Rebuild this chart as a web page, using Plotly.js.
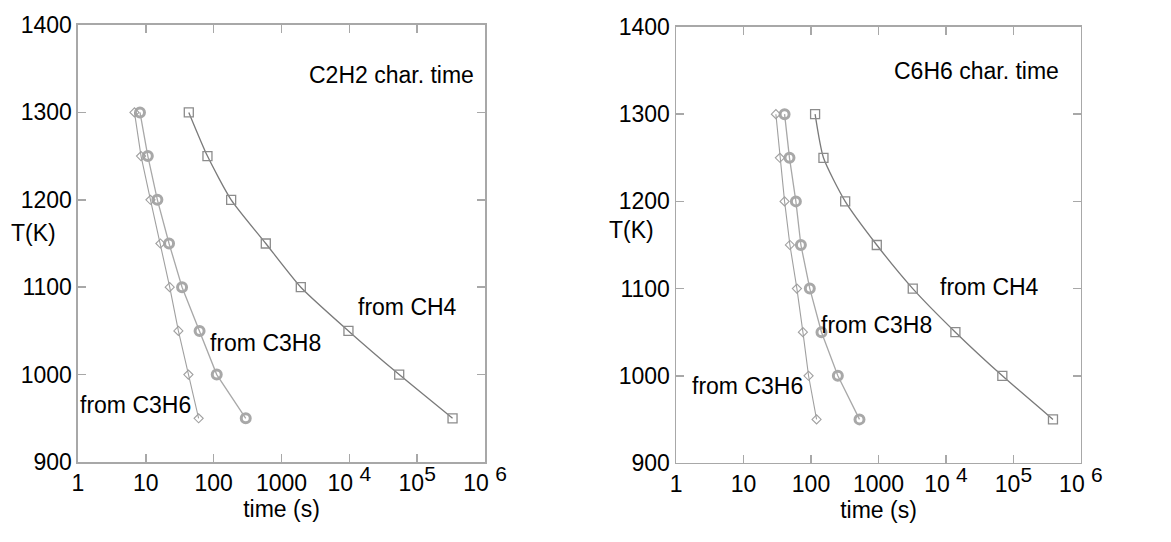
<!DOCTYPE html>
<html>
<head>
<meta charset="utf-8">
<script src="https://cdn.plot.ly/plotly-3.0.1.min.js"></script>
<style>html,body{margin:0;padding:0;background:#fff}#chart{width:1171px;height:542px}</style>
</head>
<body>
<div id="chart"></div>
<script>
// Temperatures (K)
const temps = [1300, 1250, 1200, 1150, 1100, 1050, 1000, 950];

// Left panel: C2H2 characteristic time (s)
const c2h2_fromCH4  = [43, 81, 181, 587, 1925, 9700, 54300, 332000];
const c2h2_fromC3H8 = [8.2, 10.7, 14.8, 22, 34.2, 62, 111, 297];
const c2h2_fromC3H6 = [6.8, 8.5, 11.7, 16.4, 22.5, 30.2, 42.4, 60];

// Right panel: C6H6 characteristic time (s)
const c6h6_fromCH4  = [115, 153, 321, 944, 3220, 13800, 68400, 385000];
const c6h6_fromC3H8 = [40.6, 48, 59.7, 70.8, 96, 143, 250, 523];
const c6h6_fromC3H6 = [30.2, 34.6, 40.6, 48.7, 61.8, 75.9, 92, 121];

// Tick labels
const xTickVals = [1, 10, 100, 1000, 1e4, 1e5, 1e6];
const xTickText = ['1', '10', '100', '1000',
  '10 <sup><span style="font-size:21px">4</span></sup>',
  '10<sup><span style="font-size:21px">5</span></sup>',
  '10 <sup><span style="font-size:21px">6</span></sup>'];
const yTickVals = [900, 1000, 1100, 1200, 1300, 1400];
const yTickText = ['900', '1000', '1100', '1200', '1300', '1400'];

const FONT = 'Liberation Sans, Arial, Helvetica, sans-serif';
const FS = 23;
const frameColor = '#a8a8a8';

function series(x, kind, xa, ya) {
  const styles = {
    ch4:  {line: {color: '#7a7a7a', width: 1.3, shape: 'spline', smoothing: 0.6},
           marker: {symbol: 'square-open', size: 9, color: '#8c8c8c', line: {width: 1.3}}},
    c3h8: {line: {color: '#a8a8a8', width: 1.3},
           marker: {symbol: 'circle-open', size: 9, color: '#a8a8a8', line: {width: 3}}},
    c3h6: {line: {color: '#a0a0a0', width: 1.1},
           marker: {symbol: 'diamond-open', size: 7, color: '#a0a0a0', line: {width: 1.1}}}
  };
  return Object.assign({x: x, y: temps, type: 'scatter', mode: 'lines+markers',
    xaxis: xa, yaxis: ya, showlegend: false, hoverinfo: 'skip'}, styles[kind]);
}

const data = [
  series(c2h2_fromCH4, 'ch4', 'x', 'y'),
  series(c2h2_fromC3H8, 'c3h8', 'x', 'y'),
  series(c2h2_fromC3H6, 'c3h6', 'x', 'y'),
  series(c6h6_fromCH4, 'ch4', 'x2', 'y2'),
  series(c6h6_fromC3H8, 'c3h8', 'x2', 'y2'),
  series(c6h6_fromC3H6, 'c3h6', 'x2', 'y2')
];

function xAxis(domain, anchor) {
  return {domain: domain, anchor: anchor, type: 'log', range: [0, 6],
    tickvals: xTickVals, ticktext: xTickText, ticks: 'inside', ticklen: 8,
    tickwidth: 1.5, tickcolor: frameColor, showline: true, linecolor: frameColor,
    linewidth: 1.5, mirror: 'ticks', showgrid: false, zeroline: false,
    tickfont: {family: FONT, size: FS, color: '#000'},
    title: {text: 'time (s)', font: {family: FONT, size: FS, color: '#000'}, standoff: 0}};
}
function yAxis(domain, anchor) {
  return {domain: domain, anchor: anchor, range: [900, 1400],
    tickvals: yTickVals, ticktext: yTickText, ticks: 'inside', ticklen: 8,
    tickwidth: 1.5, tickcolor: frameColor, showline: true, linecolor: frameColor,
    linewidth: 1.5, mirror: 'ticks', showgrid: false, zeroline: false,
    tickfont: {family: FONT, size: FS, color: '#000'}};
}

const txt = (x, y, t) => ({x: x, y: y, xref: 'paper', yref: 'paper', text: t,
  showarrow: false, xanchor: 'left', yanchor: 'middle',
  font: {family: FONT, size: FS, color: '#000'}});

const layout = {
  width: 1171, height: 542,
  margin: {l: 0, r: 0, t: 0, b: 0},
  paper_bgcolor: '#fff', plot_bgcolor: '#fff',
  xaxis: xAxis([0.0666, 0.4142], 'y'),
  yaxis: yAxis([0.1476, 0.9539], 'x'),
  xaxis2: xAxis([0.5773, 0.9231], 'y2'),
  yaxis2: yAxis([0.1458, 0.9502], 'x2'),
  annotations: [
    txt(0.262, 0.862, 'C2H2 char. time'),
    txt(0.304, 0.434, 'from CH4'),
    txt(0.178, 0.367, 'from C3H8'),
    txt(0.067, 0.253, 'from C3H6'),
    txt(0.762, 0.869, 'C6H6 char. time'),
    txt(0.801, 0.471, 'from CH4'),
    txt(0.699, 0.400, 'from C3H8'),
    txt(0.589, 0.288, 'from C3H6'),
    txt(0.008, 0.570, 'T(K)'),
    txt(0.518, 0.576, 'T(K)')
  ]
};

Plotly.newPlot('chart', data, layout, {staticPlot: true});
</script>
</body>
</html>
